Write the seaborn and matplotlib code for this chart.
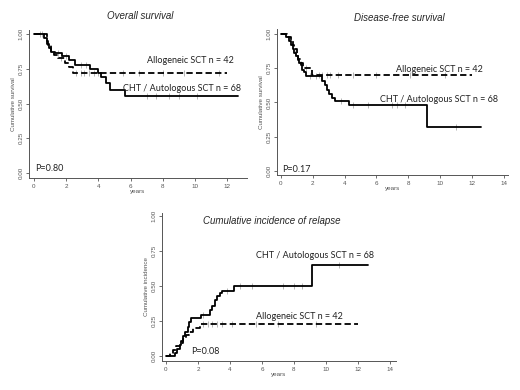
import numpy as np
import pandas as pd
import matplotlib
matplotlib.use("Agg")
import matplotlib.pyplot as plt
import seaborn as sns

# ---- data (step curves: time in years, value) ----
os_auto_t = [0, 0.6, 0.8, 0.95, 1.05, 1.3, 1.75, 2.15, 2.55, 3.45, 3.95, 4.15, 4.45, 4.75, 5.65, 12.65]
os_auto_s = [1.0, 0.97, 0.93, 0.90, 0.87, 0.86, 0.84, 0.81, 0.78, 0.75, 0.72, 0.69, 0.645, 0.60, 0.555, 0.555]
os_allo_t = [0, 0.8, 0.9, 1.05, 1.25, 1.5, 1.9, 2.2, 2.4, 12.0]
os_allo_s = [1.0, 0.95, 0.92, 0.88, 0.85, 0.83, 0.79, 0.76, 0.72, 0.72]

dfs_auto_t = [0, 0.3, 0.5, 0.65, 0.75, 0.85, 0.95, 1.05, 1.15, 1.25, 1.35, 1.45, 1.6,
              2.6, 2.75, 2.9, 3.05, 3.2, 3.4, 4.25, 9.2, 12.6]
dfs_auto_s = [1.0, 0.98, 0.95, 0.92, 0.89, 0.86, 0.84, 0.81, 0.79, 0.77, 0.74, 0.72, 0.69,
              0.66, 0.63, 0.59, 0.56, 0.53, 0.51, 0.48, 0.32, 0.32]
dfs_allo_t = [0, 0.4, 0.6, 0.75, 0.85, 1.0, 1.1, 1.25, 1.4, 1.95, 12.0]
dfs_allo_s = [1.0, 0.98, 0.95, 0.92, 0.89, 0.85, 0.82, 0.79, 0.75, 0.70, 0.70]

cir_auto_t = [0, 0.55, 0.7, 0.85, 0.95, 1.05, 1.2, 1.35, 1.45, 1.55, 2.2, 2.75, 2.9,
              3.05, 3.2, 3.35, 3.5, 4.25, 9.15, 12.6]
cir_auto_s = [0, 0.02, 0.05, 0.08, 0.11, 0.14, 0.17, 0.21, 0.24, 0.27, 0.29, 0.33, 0.36,
              0.40, 0.43, 0.45, 0.465, 0.50, 0.65, 0.65]
cir_allo_t = [0, 0.25, 0.45, 0.6, 0.85, 1.05, 1.25, 1.45, 1.7, 2.1, 12.0]
cir_allo_s = [0, 0.02, 0.04, 0.07, 0.09, 0.12, 0.15, 0.17, 0.20, 0.225, 0.225]

# censoring marks (times)
os_auto_cens = [0.5, 1.5, 2.0, 2.9, 3.2, 7.0, 7.6, 8.4, 9.0, 10.1]
os_allo_cens = [0.4, 1.7, 2.6, 2.9, 3.1, 3.4, 3.7, 4.0, 5.5, 6.5, 8.0, 9.3, 11.5]
dfs_auto_cens = [0.9, 1.8, 2.2, 3.8, 4.5, 5.5, 7.0, 7.3, 7.8, 11.0]
dfs_allo_cens = [1.6, 2.4, 2.6, 2.9, 3.1, 3.6, 4.5, 6.0, 8.1, 10.3]
cir_auto_cens = [2.3, 3.8, 4.6, 5.4, 7.3, 8.0, 8.5, 10.8]
cir_allo_cens = [2.3, 2.6, 2.9, 3.2, 3.5, 4.1, 5.6, 7.0, 9.4]

sns.set_style("ticks")
plt.rcParams["font.family"] = ["Liberation Sans", "DejaVu Sans"]

fig = plt.figure(figsize=(5.2, 3.9), dpi=100)


def px_axes(left, top, right, bottom):
    return fig.add_axes([left / 520, 1 - bottom / 390, (right - left) / 520, (bottom - top) / 390])


def step_at(t, s, x):
    i = np.searchsorted(t, x, side="right") - 1
    return np.asarray(s)[i]


def draw_curve(ax, t, s, cens, dashed):
    df = pd.DataFrame({"t": t, "s": s})
    sns.lineplot(data=df, x="t", y="s", ax=ax, color="black", lw=1.3,
                 drawstyle="steps-post", estimator=None,
                 linestyle=(0, (3.5, 1.8)) if dashed else "-")
    cdf = pd.DataFrame({"t": cens, "s": step_at(t, s, cens)})
    sns.scatterplot(data=cdf, x="t", y="s", ax=ax, marker="|", color="#aaaaaa",
                    s=14, linewidth=0.6, zorder=1)


def style_axes(ax, xlim, ylim, xmax_tick, ylabel):
    ax.set_xlim(*xlim)
    ax.set_ylim(*ylim)
    ax.set_xticks(range(0, xmax_tick + 1, 2))
    ax.set_yticks([0, 0.25, 0.5, 0.75, 1.0])
    ax.set_yticklabels(["0.00", "0.25", "0.50", "0.75", "1.00"], rotation=90, va="center")
    ax.tick_params(labelsize=4.5, length=2.5, width=0.6, pad=1.5, colors="#555555",
                   labelcolor="#555555")
    for sp in ["left", "bottom"]:
        ax.spines[sp].set_linewidth(0.7)
        ax.spines[sp].set_color("#555555")
    sns.despine(ax=ax)
    ax.set_xlabel("years", fontsize=4.5, labelpad=0, color="#555555")
    ax.set_ylabel(ylabel, fontsize=4.5, labelpad=1.5, color="#555555")


lab_font = dict(family=["Lato", "DejaVu Sans"], fontsize=6.5, color="#222222")

# ---- Overall survival ----
ax1 = px_axes(29, 30, 247, 178)
draw_curve(ax1, os_allo_t, os_allo_s, os_allo_cens, True)
draw_curve(ax1, os_auto_t, os_auto_s, os_auto_cens, False)
style_axes(ax1, (-0.31, 13.23), (-0.036, 1.029), 12, "Cumulative survival")
fig.text(140 / 520, 1 - 16 / 390, "Overall survival", style="italic", fontsize=7,
         ha="center", va="center")
ax1.text(7.0, 0.81, "Allogeneic SCT n = 42", ha="left", va="center", **lab_font)
ax1.text(5.55, 0.61, "CHT / Autologous SCT n = 68", ha="left", va="center", **lab_font)
ax1.text(0.1, 0.035, "P=0.80", ha="left", va="center", **lab_font)

# ---- Disease-free survival ----
ax2 = px_axes(277, 29, 508, 175)
draw_curve(ax2, dfs_allo_t, dfs_allo_s, dfs_allo_cens, True)
draw_curve(ax2, dfs_auto_t, dfs_auto_s, dfs_auto_cens, False)
style_axes(ax2, (-0.25, 14.28), (-0.029, 1.036), 14, "Cumulative survival")
fig.text(399 / 520, 1 - 18 / 390, "Disease-free survival", style="italic", fontsize=7,
         ha="center", va="center")
ax2.text(7.25, 0.74, "Allogeneic SCT n = 42", ha="left", va="center", **lab_font)
ax2.text(6.2, 0.525, "CHT / Autologous SCT n = 68", ha="left", va="center", **lab_font)
ax2.text(0.05, 0.01, "P=0.17", ha="left", va="center", **lab_font)

# ---- Cumulative incidence of relapse ----
ax3 = px_axes(162, 213, 396, 361)
draw_curve(ax3, cir_allo_t, cir_allo_s, cir_allo_cens, True)
draw_curve(ax3, cir_auto_t, cir_auto_s, cir_auto_cens, False)
style_axes(ax3, (-0.25, 14.375), (-0.036, 1.021), 14, "Cumulative incidence")
ax3.text(6.6, 0.965, "Cumulative incidence of relapse", style="italic", fontsize=7,
         ha="center", va="center")
ax3.text(5.6, 0.72, "CHT / Autologous SCT n = 68", ha="left", va="center", **lab_font)
ax3.text(5.6, 0.28, "Allogeneic SCT n = 42", ha="left", va="center", **lab_font)
ax3.text(1.6, 0.035, "P=0.08", ha="left", va="center", **lab_font)

fig.savefig("out.png", dpi=100)
